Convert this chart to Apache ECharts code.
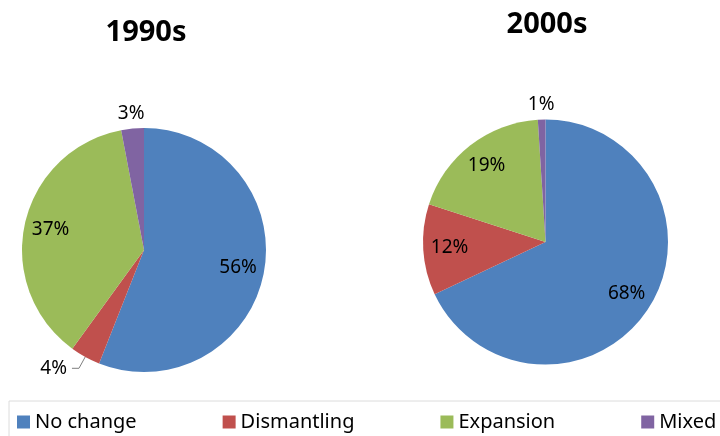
<!DOCTYPE html>
<html>
<head>
<meta charset="utf-8">
<script src="https://cdn.jsdelivr.net/npm/echarts@6/dist/echarts.min.js"></script>
<style>
  html, body { margin: 0; padding: 0; background: #fff; }
  #main { width: 720px; height: 436px; }
</style>
</head>
<body>
<div id="main"></div>
<script>
// data
const categories = ['No change', 'Dismantling', 'Expansion', 'Mixed'];
const values1990 = [56, 4, 37, 3];
const values2000 = [68, 12, 19, 1];
const titles = ['1990s', '2000s'];
const colors = ['#4F81BD', '#C0504D', '#9BBB59', '#8064A2'];

// slices whose label hangs outside with a leader line
const leaderNames = [['Dismantling'], []];

const FONT = 'Noto Sans';
const SMALL = 5; // below this the label goes outside the pie

function slices(values) {
  return values.map((v, i) => ({ name: categories[i], value: v }));
}

// builds the visible pie and two transparent helper pies that only carry labels
function makePie(values, center, r, leaders) {
  const main = {
    type: 'pie',
    center: center,
    radius: r,
    silent: true,
    startAngle: 90,
    clockwise: true,
    itemStyle: { borderWidth: 0 },
    label: { show: false },
    labelLine: { show: false },
    data: values.map((v, i) => {
      const item = { name: categories[i], value: v, itemStyle: { color: colors[i] } };
      if (leaders.indexOf(categories[i]) >= 0) {
        item.label = {
          show: true, position: 'outside', formatter: '{c}%',
          fontFamily: FONT, fontSize: 19, color: '#000', distanceToLabelLine: 5
        };
        item.labelLine = {
          show: true, length: 13, length2: 7,
          lineStyle: { color: '#7f7f7f', width: 1 }
        };
      }
      return item;
    })
  };

  // inner labels sit at about 0.76 of the radius
  const inner = {
    type: 'pie',
    center: center,
    radius: [0, r * 1.52],
    silent: true,
    legendHoverLink: false,
    itemStyle: { color: 'rgba(0,0,0,0)' },
    label: {
      position: 'inside', formatter: '{c}%',
      fontFamily: FONT, fontSize: 19, color: '#000'
    },
    labelLine: { show: false },
    data: slices(values).map(d => Object.assign(d, {
      label: { show: d.value >= SMALL }
    }))
  };

  // small slices without leader line get their label just outside the rim
  const outer = {
    type: 'pie',
    center: center,
    radius: [r, r + 24],
    silent: true,
    legendHoverLink: false,
    itemStyle: { color: 'rgba(0,0,0,0)' },
    label: {
      position: 'inside', formatter: '{c}%',
      fontFamily: FONT, fontSize: 19, color: '#000'
    },
    labelLine: { show: false },
    data: slices(values).map(d => Object.assign(d, {
      label: { show: d.value < SMALL && leaders.indexOf(d.name) < 0 }
    }))
  };

  return [main, inner, outer];
}

const chart = echarts.init(document.getElementById('main'));

chart.setOption({
  animation: false,
  backgroundColor: '#fff',
  title: [
    {
      text: titles[0], left: 146, top: 18, textAlign: 'center', padding: 0,
      textStyle: { fontFamily: FONT, fontSize: 29, fontWeight: 'bold', color: '#000', lineHeight: 30 }
    },
    {
      text: titles[1], left: 547, top: 10, textAlign: 'center', padding: 0,
      textStyle: { fontFamily: FONT, fontSize: 29, fontWeight: 'bold', color: '#000', lineHeight: 30 }
    }
  ],
  legend: {
    data: categories,
    left: 9,
    top: 401,
    width: 800,
    padding: [11, 100, 30, 8],
    borderColor: '#dcdcdc',
    borderWidth: 1,
    icon: 'rect',
    itemWidth: 13,
    itemHeight: 13,
    itemGap: 86,
    selectedMode: false,
    textStyle: { fontFamily: FONT, fontSize: 20, color: '#000', lineHeight: 20 }
  },
  series: [].concat(
    makePie(values1990, [144, 250], 122, leaderNames[0]),
    makePie(values2000, [545.5, 242], 122.5, leaderNames[1])
  )
});
</script>
</body>
</html>
